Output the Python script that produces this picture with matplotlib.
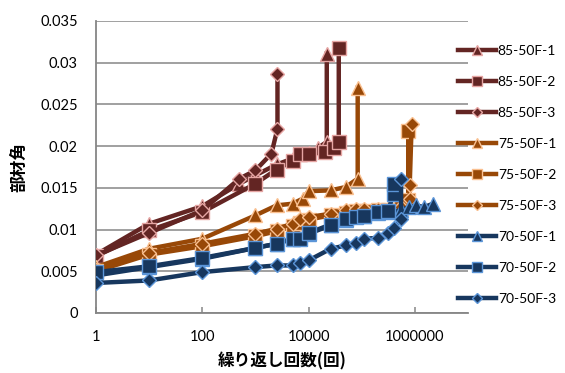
import matplotlib
matplotlib.use("Agg")
import matplotlib.pyplot as plt
from matplotlib.ticker import FixedLocator, FixedFormatter

# ---- data ----
n_85_1 = [1, 10, 100, 500, 1000, 2500, 5000, 7000, 10000, 15000, 22000, 22000]
v_85_1 = [0.0070, 0.0107, 0.0128, 0.0155, 0.0165, 0.0178, 0.0185, 0.0190, 0.0192, 0.0198, 0.0205, 0.0311]

n_85_2 = [1, 10, 100, 1000, 2500, 5000, 7000, 10000, 20000, 30000, 37000, 37000]
v_85_2 = [0.0068, 0.0099, 0.0121, 0.0155, 0.0172, 0.0182, 0.0190, 0.0191, 0.0193, 0.0198, 0.0205, 0.0318]

n_85_3 = [1, 10, 100, 500, 1000, 2000, 2600, 2600]
v_85_3 = [0.0069, 0.0096, 0.0123, 0.0161, 0.0171, 0.0191, 0.0221, 0.0287]

n_75_1 = [1, 10, 100, 1000, 2500, 5000, 7700, 10000, 26000, 50000, 84000, 84000]
v_75_1 = [0.0055, 0.0077, 0.0089, 0.0117, 0.0129, 0.0131, 0.0137, 0.0146, 0.0147, 0.0151, 0.0161, 0.0270]

n_75_2 = [1, 10, 100, 1000, 2500, 5000, 7000, 10000, 26000, 50000, 77000, 110000, 200000, 310000, 550000, 750000, 750000]
v_75_2 = [0.0050, 0.0070, 0.0080, 0.0092, 0.0098, 0.0104, 0.0108, 0.0112, 0.0117, 0.0120, 0.0122, 0.0122, 0.0123, 0.0124, 0.0126, 0.0135, 0.0218]

n_75_3 = [1, 10, 100, 1000, 2500, 5000, 7000, 10000, 26000, 50000, 77000, 110000, 200000, 310000, 550000, 800000, 800000, 870000]
v_75_3 = [0.0052, 0.0072, 0.0083, 0.0095, 0.0101, 0.0107, 0.0113, 0.0115, 0.0119, 0.0123, 0.0125, 0.0125, 0.0125, 0.0125, 0.0127, 0.0137, 0.0153, 0.0226]

n_70_1 = [1, 10, 100, 1000, 2500, 5000, 10000, 26000, 50000, 110000, 200000, 310000, 550000, 770000, 1050000, 1500000, 2200000]
v_70_1 = [0.0045, 0.0055, 0.0065, 0.0078, 0.0083, 0.0089, 0.0095, 0.0105, 0.0112, 0.0116, 0.0120, 0.0121, 0.0123, 0.0127, 0.0129, 0.0127, 0.0131]

n_70_2 = [1, 10, 100, 1000, 2500, 5000, 7000, 10000, 26000, 50000, 77000, 110000, 200000, 310000, 400000, 400000]
v_70_2 = [0.0049, 0.0056, 0.0066, 0.0078, 0.0083, 0.0089, 0.0089, 0.0096, 0.0106, 0.0113, 0.0115, 0.0116, 0.0121, 0.0122, 0.0143, 0.0155]

n_70_3 = [1, 10, 100, 1000, 2500, 5000, 7000, 10000, 26000, 50000, 77000, 110000, 200000, 310000, 400000, 550000, 550000]
v_70_3 = [0.0036, 0.0039, 0.0049, 0.0055, 0.0057, 0.0057, 0.0060, 0.0063, 0.0077, 0.0081, 0.0084, 0.0089, 0.0090, 0.0096, 0.0102, 0.0113, 0.0161]

labels = ["85-50F-1", "85-50F-2", "85-50F-3",
          "75-50F-1", "75-50F-2", "75-50F-3",
          "70-50F-1", "70-50F-2", "70-50F-3"]
x_ticks = [1, 100, 10000, 1000000]
x_ticklabels = ["1", "100", "10000", "1000000"]
y_ticks = [0, 0.005, 0.01, 0.015, 0.02, 0.025, 0.03, 0.035]
y_ticklabels = ["0", "0.005", "0.01", "0.015", "0.02", "0.025", "0.03", "0.035"]
x_title = "繰り返し回数(回)"
y_title = "部材角"

series = [(n_85_1, v_85_1), (n_85_2, v_85_2), (n_85_3, v_85_3),
          (n_75_1, v_75_1), (n_75_2, v_75_2), (n_75_3, v_75_3),
          (n_70_1, v_70_1), (n_70_2, v_70_2), (n_70_3, v_70_3)]

# ---- style ----
plt.rcParams['font.family'] = ['Lato', 'Noto Sans CJK JP', 'DejaVu Sans']
group_style = [
    ("#632523", "#E6A5A3"),
    ("#984807", "#FAC090"),
    ("#17375E", "#5B95D8"),
]
markers = [("^", 9.5), ("s", 10), ("D", 7)]

fig = plt.figure(figsize=(5.65, 3.73), dpi=100)
ax = fig.add_axes([96 / 565, 1 - 313 / 373, (468 - 96) / 565, (313 - 21) / 373])

for i, ((n, v), lab) in enumerate(zip(series, labels)):
    lc, ec = group_style[i // 3]
    mk, ms = markers[i % 3]
    ax.plot(n, v, color=lc, lw=3.2, marker=mk, markersize=ms,
            markerfacecolor=lc, markeredgecolor=ec, markeredgewidth=1.0,
            label=lab, zorder=3 + i, solid_joinstyle='round')

ax.set_xscale('log')
ax.set_xlim(1, 1e7)
ax.set_ylim(0, 0.035)
ax.xaxis.set_major_locator(FixedLocator(x_ticks))
ax.xaxis.set_major_formatter(FixedFormatter(x_ticklabels))
ax.xaxis.set_minor_locator(FixedLocator([]))
ax.set_yticks(y_ticks)
ax.set_yticklabels(y_ticklabels)

gray = "#868686"
ax.grid(axis='y', color=gray, lw=1.1, zorder=0)
ax.set_axisbelow(True)
for s in ['top', 'right']:
    ax.spines[s].set_visible(False)
for s in ['left', 'bottom']:
    ax.spines[s].set_color(gray)
    ax.spines[s].set_linewidth(1.3)
ax.tick_params(axis='x', direction='in', length=4, color=gray, width=1.1,
               labelsize=10.5, pad=12, labelcolor='black')
ax.tick_params(axis='y', length=0, labelsize=10.5, pad=13, labelcolor='black')

ax.set_xlabel(x_title, fontsize=12, fontweight='bold',
              family=['Noto Sans CJK JP', 'DejaVu Sans'], labelpad=6)
ax.set_ylabel(y_title, fontsize=12, fontweight='bold',
              family=['Noto Sans CJK JP', 'DejaVu Sans'], labelpad=8)

leg = fig.legend(loc='upper left', bbox_to_anchor=(452 / 565, 1 - 39 / 373),
                 frameon=False, fontsize=10, handlelength=2.8,
                 handletextpad=0.1, labelspacing=1.37, borderaxespad=0)
for h in leg.legend_handles:
    h.set_markersize(h.get_markersize() * 0.75)

fig.savefig("out.png", dpi=100)
